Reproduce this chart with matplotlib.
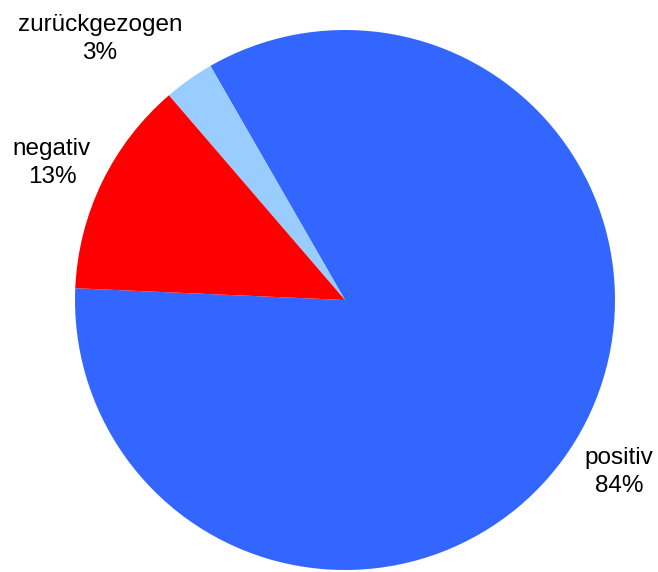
import matplotlib
matplotlib.use("Agg")
import matplotlib.pyplot as plt

# pie data, in drawing order (counterclockwise from the start angle)
categories = ["positiv", "zurückgezogen", "negativ"]
shares = [84, 3, 13]
colors = ["#3366FF", "#99CCFF", "#FF0000"]

W, H = 658, 572
fig = plt.figure(figsize=(W / 100, H / 100), dpi=100)
plt.rcParams['font.family'] = ['Liberation Sans', 'DejaVu Sans']

# circle centre (345, 300) px, radius 270 px
cx, cy, r = 345, 300, 270
ax = fig.add_axes([(cx - r) / W, (H - cy - r) / H, 2 * r / W, 2 * r / H])

wedges, texts = ax.pie(shares, colors=colors, startangle=177.5, counterclock=True,
                       radius=1, labels=None,
                       wedgeprops=dict(linewidth=0, antialiased=True))
ax.set_xlim(-1, 1)
ax.set_ylim(-1, 1)
ax.set_aspect("equal")
ax.axis("off")

# label centres in pixel coordinates
label_px = {"positiv": (619, 472), "zurückgezogen": (100, 39), "negativ": (52, 163)}
for name, val in zip(categories, shares):
    px, py = label_px[name]
    ax.text((px - cx) / r, (cy - py) / r, f"{name}\n{val}%", ha="center", va="center",
            fontsize=17.5, linespacing=1.3, color="black", clip_on=False)

fig.savefig("out.png", dpi=100)
